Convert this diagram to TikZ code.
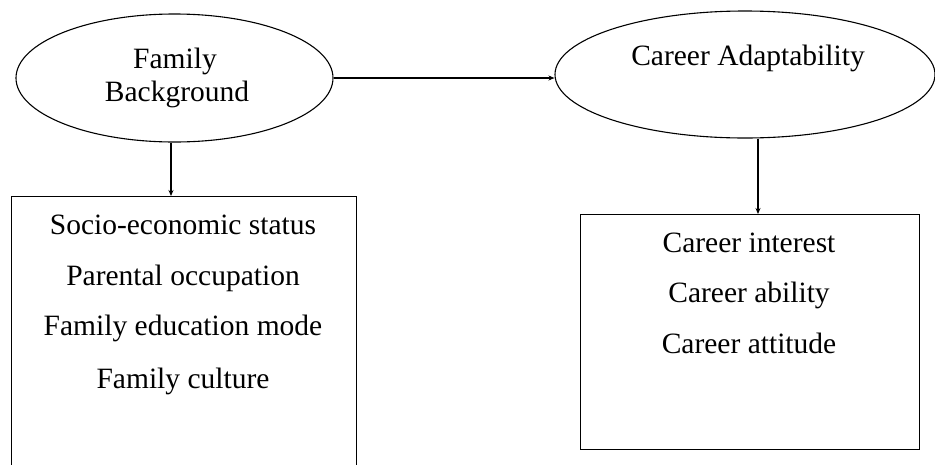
\documentclass[tikz,border=0pt]{standalone}
\usepackage{fontspec}
\setmainfont{Liberation Serif}
\usetikzlibrary{shapes.geometric,arrows.meta}
\begin{document}
\begin{tikzpicture}[x=1pt,y=-1pt,
  lbl/.style={font=\fontsize{29.5}{33}\selectfont, anchor=base, inner sep=0pt},
  oval/.style={draw, line width=1.1pt, ellipse, inner sep=0pt},
  listbox/.style={draw, line width=1.1pt, rectangle, inner sep=0pt},
  conn/.style={line width=1.1pt, -{Stealth[length=6pt,width=5pt]}}]
\useasboundingbox (0,0) rectangle (935,464);
\clip (0,0) rectangle (935,464);
\fill[white] (0,0) rectangle (935,464);
% ellipses
\node[oval, minimum width=317pt, minimum height=128pt] (fb) at (174.5,78) {};
\node[oval, minimum width=380pt, minimum height=127pt] (ca) at (745,74.5) {};
% text in ellipses
\node[lbl] (fbt1) at (175,68) {Family};
\node[lbl] (fbt2) at (177,101) {Background};
\node[lbl] (cat) at (748,65) {Career Adaptability};
% boxes
\node[listbox, minimum width=345pt, minimum height=284pt, anchor=north west] (lb) at (11,196) {};
\node[listbox, minimum width=339pt, minimum height=235pt, anchor=north west] (rb) at (580,214) {};
% left list
\node[lbl] (l1) at (183,234) {Socio-economic status};
\node[lbl] (l2) at (183,285) {Parental occupation};
\node[lbl] (l3) at (183,335) {Family education mode};
\node[lbl] (l4) at (183,388) {Family culture};
% right list
\node[lbl] (r1) at (749,252) {Career interest};
\node[lbl] (r2) at (749,302) {Career ability};
\node[lbl] (r3) at (749,353) {Career attitude};
% connectors
\draw[conn] (fb.east) -- (fb.east -| ca.west);
\draw[conn] (fb.south -| 171,0) -- (lb.north -| 171,0);
\draw[conn] (ca.south -| 758,0) -- (rb.north -| 758,0);
\end{tikzpicture}
\end{document}
